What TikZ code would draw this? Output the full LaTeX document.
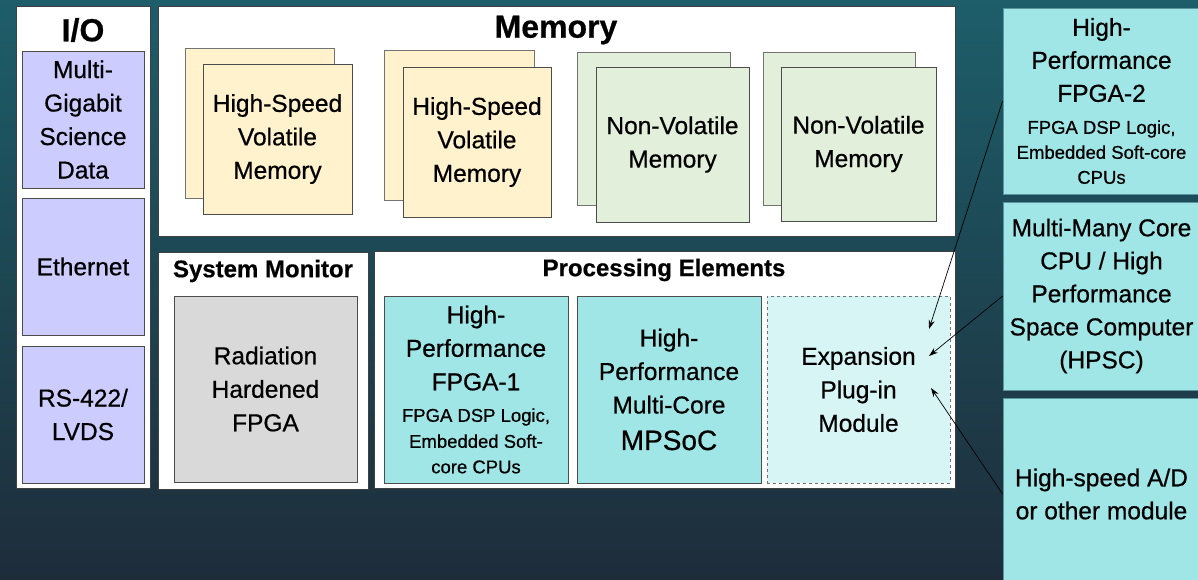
\documentclass[tikz,border=0pt]{standalone}
\usepackage{fontspec}
\setmainfont{Liberation Sans}[FakeBold=0.6]
\usetikzlibrary{arrows.meta}
\definecolor{bgtop}{RGB}{29,94,106}
\definecolor{bgmid}{RGB}{31,66,80}
\definecolor{bgbot}{RGB}{30,44,58}
\definecolor{iofill}{RGB}{204,204,255}
\definecolor{volfill}{RGB}{255,242,204}
\definecolor{nvfill}{RGB}{226,239,218}
\definecolor{rhfill}{RGB}{217,217,217}
\definecolor{pefill}{RGB}{160,230,230}
\definecolor{expfill}{RGB}{216,245,245}
\definecolor{colline}{RGB}{90,150,160}
\newcommand\smalltxt{\fontsize{18.5}{25}\selectfont}
\newcommand\bigtxt{\fontsize{28}{33}\selectfont}
\begin{document}
\begin{tikzpicture}[x=1pt, y=-1pt,
    sz/.style 2 args={minimum width=#1pt, minimum height=#2pt},
    panel/.style={draw=black!75, fill=white, line width=0.8pt, inner sep=0pt},
    title/.style={font=\bfseries\fontsize{24}{28}\selectfont, inner sep=0pt},
    bigtitle/.style={font=\bfseries\fontsize{32}{36}\selectfont, inner sep=0pt},
    cell/.style={draw=black!70, line width=0.7pt, inner sep=0pt, align=center,
        font=\fontsize{24.5}{33.5}\selectfont},
    backcell/.style={draw=black!55, line width=0.7pt, inner sep=0pt},
    colcell/.style={draw=colline, fill=pefill, line width=0.8pt, inner sep=0pt, align=center,
        font=\fontsize{24.5}{33}\selectfont},
    link/.style={draw=black, line width=0.7pt, -{Stealth[length=9pt,width=6pt]}}]
\useasboundingbox (0,0) rectangle (1198,580);
\shade[top color=bgtop, middle color=bgmid, bottom color=bgbot] (0,0) rectangle (1198,580);

\node[panel, sz={134}{482}] (io) at (83,247) {};
\node[bigtitle] (iotitle) at (83,30) {I/O};
\node[cell, fill=iofill, sz={122}{137}] (mgsd) at (83,119.5) {Multi-\\Gigabit\\Science\\Data};
\node[cell, fill=iofill, sz={122}{137}] (eth) at (83,266.5) {Ethernet};
\node[cell, fill=iofill, sz={122}{137}] (rs) at (83,414.5) {RS-422/\\LVDS};

\node[panel, sz={797}{230}] (mem) at (556.5,121) {};
\node[bigtitle] (memtitle) at (556,30) {Memory};
\node[backcell, fill=volfill, sz={149}{150}] (hsva) at (259.5,123) {};
\node[cell, fill=volfill, sz={149}{150}] (hsv) at (277.5,139) {High-Speed\\Volatile\\Memory};
\node[backcell, fill=volfill, sz={150}{150}] (hsvb) at (459,125) {};
\node[cell, fill=volfill, sz={148}{150}] (hsvtwo) at (477,142) {High-Speed\\Volatile\\Memory};
\node[backcell, fill=nvfill, sz={153}{153}] (nva) at (653.5,128.5) {};
\node[cell, fill=nvfill, sz={153}{155}] (nv) at (672.5,144.5) {Non-Volatile\\Memory};
\node[backcell, fill=nvfill, sz={152}{153}] (nvb) at (839,128.5) {};
\node[cell, fill=nvfill, sz={155}{154}] (nvtwo) at (858.5,144) {Non-Volatile\\Memory};

\node[panel, sz={210}{237}] (sysmon) at (263,370.5) {};
\node[title] (sysmontitle) at (263,271) {System Monitor};
\node[cell, fill=rhfill, sz={183}{186}] (radfpga) at (265.5,389) {Radiation\\Hardened\\FPGA};

\node[panel, sz={581}{237}] (pe) at (664.5,369.5) {};
\node[title] (petitle) at (664,270) {Processing Elements};
\node[cell, fill=pefill, sz={184}{187}] (fpgaone) at (476,389.5)
    {High-\\Performance\\FPGA-1\\[-2pt]\smalltxt FPGA DSP Logic,\\[-7.5pt]\smalltxt Embedded Soft-\\[-8pt]\smalltxt core CPUs};
\node[cell, fill=pefill, sz={184}{187}] (mpsoc) at (669,389.5)
    {High-\\Performance\\Multi-Core\\[3pt]\bigtxt MPSoC};
\node[cell, fill=expfill, draw=black!55, dashed, sz={183}{187}] (expansion) at (858.5,389.5)
    {Expansion\\Plug-in\\Module};

\node[colcell, sz={197}{186}] (fpgatwo) at (1101.5,101)
    {High-\\Performance\\FPGA-2\\[-1pt]\smalltxt FPGA DSP Logic,\\[-8pt]\smalltxt Embedded Soft-core\\[-8pt]\smalltxt CPUs};
\node[colcell, sz={197}{188}] (hpsc) at (1101.5,296)
    {Multi-Many Core\\CPU / High\\Performance\\Space Computer\\(HPSC)};
\node[colcell, sz={197}{192}] (adc) at (1101.5,494) {High-speed A/D\\or other module};

\coordinate (tipa) at (929,329);
\coordinate (tipb) at (929,356);
\coordinate (tipc) at (931,388);
\draw[link] (fpgatwo.west) -- (tipa);
\draw[link] (hpsc.west) -- (tipb);
\draw[link] (adc.west) -- (tipc);
\end{tikzpicture}
\end{document}
